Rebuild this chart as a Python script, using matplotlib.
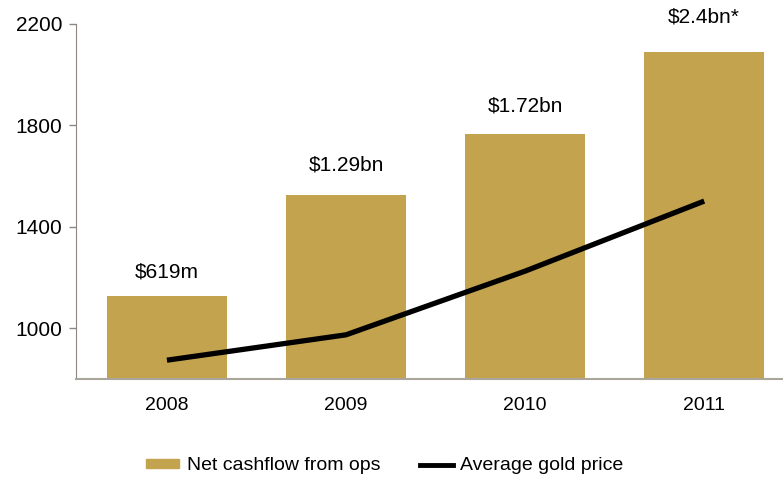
import matplotlib
matplotlib.use('Agg')
import matplotlib.pyplot as plt
import numpy as np
from matplotlib.patches import Patch
from matplotlib.lines import Line2D

plt.rcParams['font.family'] = ['Liberation Sans', 'DejaVu Sans']

years = ['2008', '2009', '2010', '2011']
cashflow = [1127, 1525, 1766, 2090]          # bar heights on the left axis
gold_price = [874, 974, 1225, 1501]          # average gold price
bar_labels = ['$619m', '$1.29bn', '$1.72bn', '$2.4bn*']
label_y = [1223, 1645, 1875, 2226]

bar_color = '#c4a34f'

fig = plt.figure(figsize=(7.83, 4.84), dpi=100)
ax = fig.add_axes([0.0977, 0.217, 0.9023, 0.734])

x = np.arange(len(years))
ax.bar(x, cashflow, width=0.67, color=bar_color, zorder=2)
ax.plot(x, gold_price, color='black', lw=3.8, solid_capstyle='butt', zorder=3)

for xi, lab, ly in zip(x, bar_labels, label_y):
    ax.text(xi, ly, lab, ha='center', va='center', fontsize=15, clip_on=False)

ax.set_xlim(-0.505, 3.44)
ax.set_ylim(800, 2200)
ax.set_yticks([1000, 1400, 1800, 2200])
ax.set_xticks(x)
ax.set_xticklabels(years)

ax.tick_params(axis='y', labelsize=15, length=5, width=1, color='#8c8880', pad=5)
ax.tick_params(axis='x', labelsize=14, length=0, pad=13)

for s in ['top', 'right']:
    ax.spines[s].set_visible(False)
ax.spines['left'].set_color('#8c8880')
ax.spines['bottom'].set_color('#aaa69e')
ax.spines['bottom'].set_linewidth(1.5)

handles = [Patch(color=bar_color), Line2D([], [], color='black', lw=3.5)]
fig.legend(handles, ['Net cashflow from ops', 'Average gold price'],
           loc='center', bbox_to_anchor=(385 / 783, 18 / 484), ncol=2,
           frameon=False, fontsize=14, handlelength=1.7, handleheight=0.3,
           handletextpad=0.4, columnspacing=2.0)

fig.savefig('out.png', dpi=100)
